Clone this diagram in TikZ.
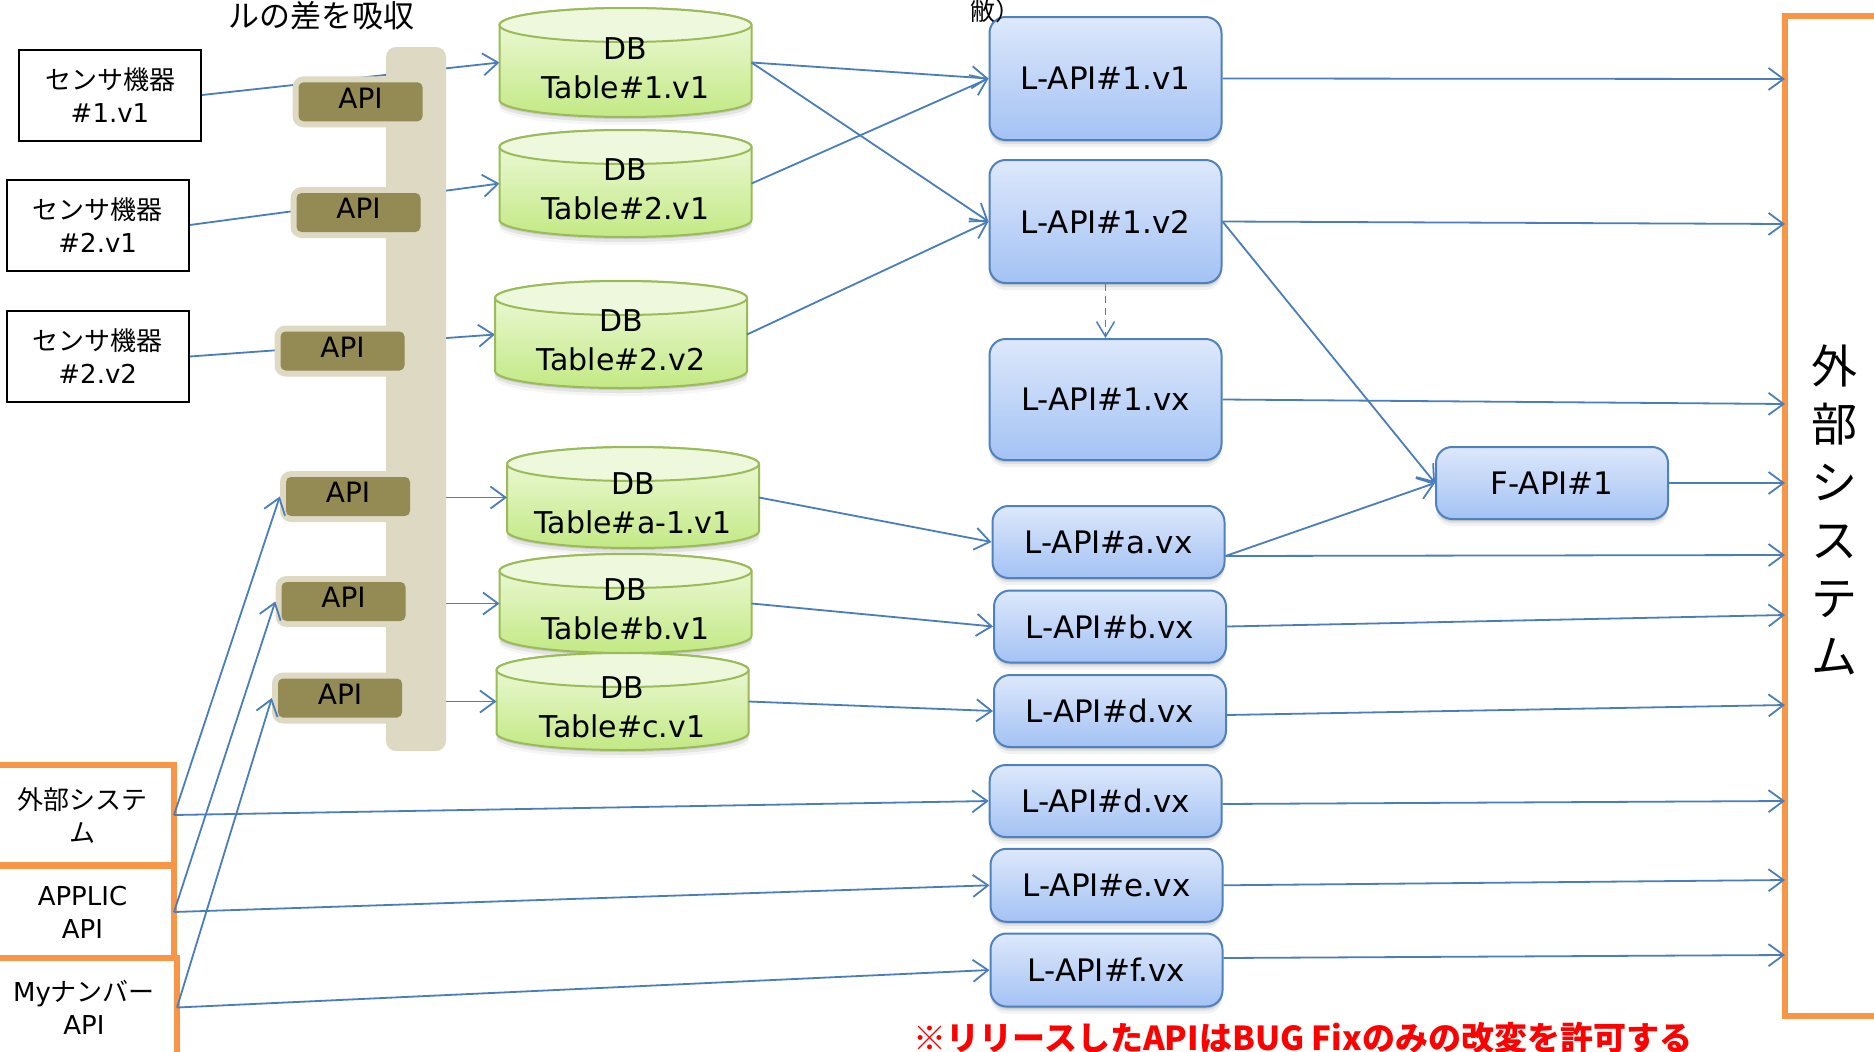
\documentclass[tikz,border=0pt]{standalone}
\usepackage{fontspec}
\setmainfont{DejaVu Sans}
\newfontfamily\jp{Noto Sans CJK JP}
\usetikzlibrary{arrows.meta,shadows}
\pgfdeclarelayer{under}
\pgfsetlayers{under,main}

\definecolor{lineblue}{HTML}{4A7EBB}
\definecolor{boxblue}{HTML}{4F81BD}
\definecolor{bluetop}{HTML}{DDE8FB}
\definecolor{bluebot}{HTML}{A3C2F4}
\definecolor{orng}{HTML}{F79646}
\definecolor{tanbar}{HTML}{DDD9C3}
\definecolor{olive}{HTML}{948A54}
\definecolor{dbedge}{HTML}{9BBB59}
\definecolor{dbtop}{HTML}{F0FADF}
\definecolor{dbbot}{HTML}{C3E984}
\definecolor{dbcapfill}{HTML}{EEF8DC}

\tikzset{
  conn/.style={draw=lineblue, line width=1.8pt},
  arr/.style={conn, -{Straight Barb[length=15pt,width=22pt]}},
  sensor/.style={draw=black, line width=2pt, fill=white, minimum width=182pt,
    minimum height=91pt, align=center, inner sep=0pt,
    font=\fontsize{26}{33}\selectfont},
  obox/.style={draw=orng, line width=6pt, fill=white, align=center, inner sep=0pt,
    outer sep=0pt, font=\fontsize{26}{33}\selectfont},
  halo/.style={fill=tanbar, rounded corners=11pt, minimum width=136pt,
    minimum height=51pt, inner sep=0pt},
  apibox/.style={fill=olive, rounded corners=5pt, minimum width=124pt,
    minimum height=39pt, inner sep=0pt, text depth=8pt,
    font=\fontsize{28}{28}\selectfont},
  % soft shadow built from a few translucent offset copies
  softshadow/.style={
    drop shadow={shadow xshift=0pt, shadow yshift=-2pt, opacity=0.10, fill=black},
    drop shadow={shadow xshift=0pt, shadow yshift=-4pt, opacity=0.08, fill=black},
    drop shadow={shadow xshift=0pt, shadow yshift=-7pt, opacity=0.05, fill=black}},
  lapi/.style={softshadow, draw=boxblue, line width=2pt, rounded corners=16pt,
    top color=bluetop, bottom color=bluebot, minimum width=232pt,
    inner sep=0pt, font=\fontsize{31}{37}\selectfont},
  dbbody/.style={draw=dbedge, line width=2pt, top color=dbtop, bottom color=dbbot},
  dbcap/.style={draw=dbedge, line width=2pt, fill=dbcapfill},
  dbtext/.style={anchor=base, inner sep=0pt, font=\fontsize{30}{36}\selectfont},
}

% database cylinder: name, centre x, centre y, total height, table label
\newcommand\dbcyl[5]{%
  \node[minimum width=252pt, minimum height=#4pt, inner sep=0pt, outer sep=0pt] (#1) at (#2,#3) {};
  % stepped soft shadow under the drum
  \foreach \s/\o in {2pt/0.10, 5pt/0.07, 8pt/0.04}
    \fill[black, opacity=\o, transform canvas={yshift=-\s}]
      ([xshift=-126pt,yshift=-17pt]#1.north) -- ([xshift=-126pt,yshift=17pt]#1.south)
      arc[start angle=180,end angle=360,x radius=126pt,y radius=17pt]
      -- ([xshift=126pt,yshift=-17pt]#1.north) -- cycle;
  \path[dbbody] ([xshift=-126pt,yshift=-17pt]#1.north) -- ([xshift=-126pt,yshift=17pt]#1.south)
     arc[start angle=180,end angle=360,x radius=126pt,y radius=17pt]
     -- ([xshift=126pt,yshift=-17pt]#1.north)
     arc[start angle=0,end angle=180,x radius=126pt,y radius=17pt] -- cycle;
  \path[dbcap] ([yshift=-17pt]#1.north) ellipse[x radius=126pt,y radius=17pt];
  \node[dbtext] (#1-db) at ([yshift=3pt]#1.center) {DB};
  \node[dbtext] (#1-tb) at ([yshift=-36pt]#1.center) {#5};
}

\begin{document}
\begin{tikzpicture}[x=1pt,y=-1pt]
\useasboundingbox (0,0) rectangle (1874,1052);
\begin{pgfonlayer}{under}
\fill[white] (0,0) rectangle (1874,1052);
\end{pgfonlayer}

% sensor devices
\node[sensor] (S1) at (110,95) {{\jp センサ機器}\\\#1.v1};
\node[sensor] (S2) at (97.7,225) {{\jp センサ機器}\\\#2.v1};
\node[sensor] (S3) at (97.7,356.5) {{\jp センサ機器}\\\#2.v2};

% adapter bar
\node[fill=tanbar, rounded corners=10pt, minimum width=60pt, minimum height=704pt,
  inner sep=0pt] (Bar) at (416,399) {};

% API adapters
\foreach \n/\x/\y in {1/360.5/101.8, 2/358.5/212.5, 3/342.5/351,
                      4/348/496.5, 5/343.5/601.5, 6/340/698} {
  \node[halo] (A\n) at (\x,\y) {};
  \node[apibox] (A\n i) at (\x,\y) {API};
}

% external sources
\node[obox, minimum width=183pt, minimum height=100pt] (X1) at (82.5,815)
  {{\jp 外部システ}\\{\jp ム}};
\node[obox, minimum width=183pt, minimum height=91.5pt] (X2) at (82.5,912)
  {APPLIC\\API};
\node[obox, minimum width=186pt, minimum height=99pt] (X3) at (84,1007.5)
  {My{\jp ナンバー}\\API};

% tables
\dbcyl{D1}{625.5}{62.5}{109}{Table\#1.v1}
\dbcyl{D2}{625.5}{183.5}{107}{Table\#2.v1}
\dbcyl{D3}{621}{334.5}{107}{Table\#2.v2}
\dbcyl{D4}{633}{497.5}{101}{Table\#a-1.v1}
\dbcyl{D5}{625.5}{603.5}{99}{Table\#b.v1}
\dbcyl{D6}{622.5}{701.5}{97}{Table\#c.v1}

% device feeds run underneath the adapter bar
\begin{pgfonlayer}{under}
\draw[arr] (S1.east) -- (D1.west);
\draw[arr] (S2.east) -- (D2.west);
\draw[arr] (S3.east) -- (D3.west);
\end{pgfonlayer}

% logical APIs
\node[lapi, minimum height=123pt] (L1) at (1105.5,78.5) {L-API\#1.v1};
\node[lapi, minimum height=123pt] (L2) at (1105.5,221.5) {L-API\#1.v2};
\node[lapi, minimum height=121pt] (L3) at (1105.5,399.5) {L-API\#1.vx};
\node[lapi, minimum height=72pt] (La) at (1108.5,542) {L-API\#a.vx};
\node[lapi, minimum height=72pt] (Lb) at (1110,626.5) {L-API\#b.vx};
\node[lapi, minimum height=72pt] (Ld1) at (1110,711) {L-API\#d.vx};
\node[lapi, minimum height=72pt] (Ld2) at (1105.7,801) {L-API\#d.vx};
\node[lapi, minimum height=73pt] (Le) at (1106.5,885.3) {L-API\#e.vx};
\node[lapi, minimum height=73pt] (Lf) at (1106.5,970) {L-API\#f.vx};
\node[lapi, minimum height=72pt] (F) at (1552,483) {F-API\#1};

% external system on the right
\node[draw=orng, line width=6pt, minimum width=98pt, minimum height=1000pt,
  inner sep=0pt] (EXT) at (1834,516) {};
\node[align=center, inner sep=0pt, font=\jp\fontsize{46}{58}\selectfont] (EXTt)
  at (1834,510) {外\\部\\シ\\ス\\テ\\ム};
\foreach \i/\y in {1/79, 2/224, 3/404, 4/483, 5/555, 6/615, 7/705, 8/801, 9/880, 10/955}
  \coordinate (t\i) at (1785,\y);

% headings and note
\node[inner sep=0pt, font=\jp\fontsize{31}{31}\selectfont] (H1) at (321,16) {ルの差を吸収};
\node[anchor=base west, inner sep=0pt, font=\jp\fontsize{25}{25}\selectfont] (H2)
  at (970,20) {敝）};
\node[anchor=base, inner sep=0pt, text=red, font=\jp\bfseries\fontsize{33}{33}\selectfont]
  (NOTE) at (1303,1050) {※リリースしたAPIはBUG Fixのみの改変を許可する};

% adapter bar to the lower tables
\draw[arr] (Bar.east |- D4.west) -- (D4.west);
\draw[arr] (Bar.east |- D5.west) -- (D5.west);
\draw[arr] (Bar.east |- D6.west) -- (D6.west);

% external sources into adapters and logical APIs
\draw[arr] (X1.east) -- (A4.west);
\draw[arr] (X2.east) -- (A5.west);
\draw[arr] (X3.east) -- (A6.west);
\draw[arr] (X1.east) -- (Ld2.west);
\draw[arr] (X2.east) -- (Le.west);
\draw[arr] (X3.east) -- (Lf.west);

% tables to logical APIs
\draw[arr] (D1.east) -- (L1.west);
\draw[arr] (D1.east) -- (L2.west);
\draw[arr] (D2.east) -- (L1.west);
\draw[arr] (D3.east) -- (L2.west);
\draw[arr] (D4.east) -- (La.west);
\draw[arr] (D5.east) -- (Lb.west);
\draw[arr] (D6.east) -- (Ld1.west);

% version succession
\draw[conn, line width=1.5pt, dash pattern=on 7pt off 5pt,
  -{Straight Barb[length=15pt,width=18pt]}] (L2.south) -- (L3.north);

% facade API
\draw[arr] (L2.east) -- (F.west);
\draw[arr] ([yshift=-14pt]La.east) -- (F.west);

% logical APIs to the external system
\draw[arr] (L1.east) -- (t1);
\draw[arr] (L2.east) -- (t2);
\draw[arr] (L3.east) -- (t3);
\draw[arr] (F.east) -- (t4);
\draw[arr] ([yshift=-14pt]La.east) -- (t5);
\draw[arr] (Lb.east) -- (t6);
\draw[arr] ([yshift=-4pt]Ld1.east) -- (t7);
\draw[arr] ([yshift=-3pt]Ld2.east) -- (t8);
\draw[arr] (Le.east) -- (t9);
\draw[arr] ([yshift=12pt]Lf.east) -- (t10);
\end{tikzpicture}
\end{document}
